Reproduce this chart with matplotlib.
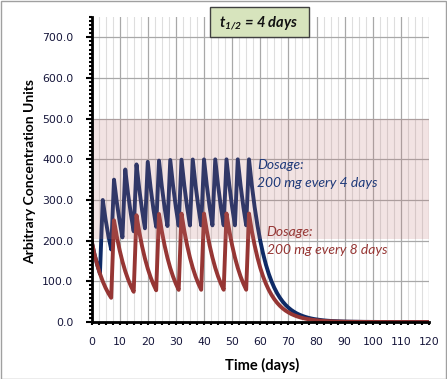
import matplotlib
matplotlib.use("Agg")
import matplotlib.pyplot as plt
from matplotlib.patches import Rectangle
from matplotlib.ticker import MultipleLocator, FixedLocator

# ---------------- data ----------------
days = list(range(0, 121))

conc_every4 = [
    200.0, 168.2, 141.4, 118.9,
    300.0, 252.3, 212.1, 178.4,
    350.0, 294.3, 247.5, 208.1,
    375.0, 315.3, 265.2, 223.0,
    387.5, 325.8, 274.0, 230.4,
    393.8, 331.1, 278.4, 234.1,
    396.9, 333.7, 280.6, 236.0,
    398.4, 335.0, 281.7, 236.9,
    399.2, 335.7, 282.3, 237.4,
    399.6, 336.0, 282.6, 237.6,
    399.8, 336.2, 282.7, 237.7,
    399.9, 336.3, 282.8, 237.8,
    400.0, 336.3, 282.8, 237.8,
    400.0, 336.3, 282.8, 237.8,
    400.0, 336.4, 282.8, 237.8, 200.0, 168.2, 141.4, 118.9, 100.0, 84.1,
    70.7, 59.5, 50.0, 42.0, 35.4, 29.7, 25.0, 21.0, 17.7, 14.9,
    12.5, 10.5, 8.8, 7.4, 6.3, 5.3, 4.4, 3.7, 3.1, 2.6,
    2.2, 1.9, 1.6, 1.3, 1.1, 0.9, 0.8, 0.7, 0.6, 0.5,
    0.4, 0.3, 0.3, 0.2, 0.2, 0.2, 0.1, 0.1, 0.1, 0.1,
    0.1, 0.1, 0.0, 0.0, 0.0, 0.0, 0.0, 0.0, 0.0, 0.0,
    0.0, 0.0, 0.0, 0.0, 0.0,
]

conc_every8 = [
    200.0, 168.2, 141.4, 118.9, 100.0, 84.1, 70.7, 59.5,
    250.0, 210.2, 176.8, 148.7, 125.0, 105.1, 88.4, 74.3,
    262.5, 220.7, 185.6, 156.1, 131.3, 110.4, 92.8, 78.0,
    265.6, 223.4, 187.8, 157.9, 132.8, 111.7, 93.9, 79.0,
    266.4, 224.0, 188.4, 158.4, 133.2, 112.0, 94.2, 79.2,
    266.6, 224.2, 188.5, 158.5, 133.3, 112.1, 94.3, 79.3,
    266.7, 224.2, 188.6, 158.6, 133.3, 112.1, 94.3, 79.3,
    266.7, 224.2, 188.6, 158.6, 133.3, 112.1, 94.3, 79.3, 66.7, 56.1,
    47.1, 39.6, 33.3, 28.0, 23.6, 19.8, 16.7, 14.0, 11.8, 9.9,
    8.3, 7.0, 5.9, 5.0, 4.2, 3.5, 2.9, 2.5, 2.1, 1.8,
    1.5, 1.2, 1.0, 0.9, 0.7, 0.6, 0.5, 0.4, 0.4, 0.3,
    0.3, 0.2, 0.2, 0.2, 0.1, 0.1, 0.1, 0.1, 0.1, 0.1,
    0.0, 0.0, 0.0, 0.0, 0.0, 0.0, 0.0, 0.0, 0.0, 0.0,
    0.0, 0.0, 0.0, 0.0, 0.0,
]

therapeutic_range = [205.0, 500.0]
y_ticks = [0, 100, 200, 300, 400, 500, 600, 700]
y_tick_labels = ["0.0", "100.0", "200.0", "300.0", "400.0", "500.0", "600.0", "700.0"]
x_ticks = [0, 10, 20, 30, 40, 50, 60, 70, 80, 90, 100, 110, 120]
x_tick_labels = [str(v) for v in x_ticks]

label_every4 = "Dosage:\n200 mg every 4 days"
label_every8 = "Dosage:\n200 mg every 8 days"

# ---------------- figure ----------------
W, H = 447, 379
DPI = 100
fig = plt.figure(figsize=(W / DPI, H / DPI), dpi=DPI)
fig.patch.set_facecolor("white")

L, R, B, T = 91.5, 429.0, 322.0, 17.0
ax = fig.add_axes([L / W, 1 - B / H, (R - L) / W, (B - T) / H])

BLUE = "#0e2a66"
RED = "#963634"

ax.plot(days, conc_every4, color=BLUE, lw=2.8, zorder=3)
ax.plot(days, conc_every8, color=RED, lw=2.8, zorder=4)

ax.axhspan(therapeutic_range[0], therapeutic_range[1], facecolor=(0.75, 0.45, 0.45),
           alpha=0.2, lw=0, zorder=5)

ax.set_xlim(0, 120)
ax.set_ylim(0, 750)

ax.xaxis.set_major_locator(FixedLocator(x_ticks))
ax.xaxis.set_minor_locator(MultipleLocator(2.5))
ax.yaxis.set_major_locator(FixedLocator(y_ticks))
ax.yaxis.set_minor_locator(MultipleLocator(10))
ax.set_xticklabels(x_tick_labels)
ax.set_yticklabels(y_tick_labels)

ax.grid(True, which="minor", axis="x", color="#dedede", lw=0.8, zorder=1)
ax.grid(True, which="major", axis="x", color="#a8a8a8", lw=0.9, zorder=1)
ax.grid(True, which="major", axis="y", color="#a8a8a8", lw=0.9, zorder=1)
ax.set_axisbelow(True)

for s in ["top", "right"]:
    ax.spines[s].set_visible(False)
for s in ["left", "bottom"]:
    ax.spines[s].set_color("black")
    ax.spines[s].set_linewidth(2.0)
    ax.spines[s].set_zorder(6)

TICK_COLOR = "#15153a"
ax.tick_params(axis="both", which="both", direction="out", color="black", width=1.5)
ax.tick_params(axis="x", which="major", length=2.5, pad=8, labelsize=7.8, labelcolor=TICK_COLOR)
ax.tick_params(axis="x", which="minor", length=2.5)
ax.tick_params(axis="y", which="major", length=4, pad=9, labelsize=7.8, labelcolor=TICK_COLOR)
ax.tick_params(axis="y", which="minor", length=2.5)
for lab in ax.get_xticklabels() + ax.get_yticklabels():
    lab.set_fontfamily("DejaVu Sans")

# axis titles
fig.text(30 / W, 1 - 172 / H, "Arbitrary Concentration Units", rotation=90,
         ha="center", va="center", fontsize=10, fontweight="bold",
         family="Lato", color="black")
fig.text(262 / W, 1 - 365 / H, "Time (days)", ha="center", va="center",
         fontsize=10.5, fontweight="bold", family="Lato", color="black")

# series annotations
ax.text(59.0, 400, label_every4, color="#1f3a7a", fontsize=10, style="italic",
        family="Lato", ha="left", va="top", linespacing=1.55, zorder=7)
ax.text(62.3, 235, label_every8, color=RED, fontsize=10, style="italic",
        family="Lato", ha="left", va="top", linespacing=1.55, zorder=7)

# title box
bx0, by0, bx1, by1 = 209.5, 7.0, 308.5, 37.0
fig.patches.append(Rectangle((bx0 / W, 1 - by1 / H), (bx1 - bx0) / W, (by1 - by0) / H,
                             transform=fig.transFigure, facecolor="#d7e4bd",
                             edgecolor="#404040", lw=1.0, zorder=10))
plt.rcParams["mathtext.fontset"] = "custom"
try:
    plt.rcParams["mathtext.bfit"] = "Lato:italic:bold"
except KeyError:
    pass
fig.text((bx0 + bx1) / 2 / W, 1 - 22.5 / H, r"$\mathbfit{t}_{\mathbfit{1/2}}$ = 4 days",
         ha="center", va="center", fontsize=10.5, fontweight="bold", style="italic",
         family="Lato", color="#111111", zorder=11)

# outer border
fig.patches.append(Rectangle((0.5 / W, 0.5 / H), (W - 1.5) / W, (H - 1.5) / H,
                             transform=fig.transFigure, facecolor="none",
                             edgecolor="#a0a0a0", lw=1.0, zorder=0))

fig.savefig("out.png", dpi=DPI)
